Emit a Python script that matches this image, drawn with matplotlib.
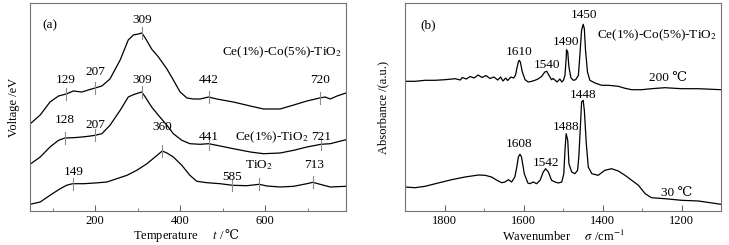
# TPR (a) and in-situ IR (b) of Ce-Co-TiO2
import numpy as np
import matplotlib.pyplot as plt

plt.rcParams['font.family'] = ['Liberation Serif', 'DejaVu Serif']
plt.rcParams['mathtext.fontset'] = 'stix'

#-------------------------------------------------------------------
# panel (a) : temperature / voltage (arbitrary offset units)
tCeCo = [47, 71, 94, 114, 132, 149, 169, 184, 200, 216, 235, 259, 278, 290,
         302, 310, 318, 333, 349, 369, 384, 400, 416, 431, 447, 467, 486, 525,
         565, 596, 635, 667, 698, 728, 741, 753, 769, 790]
vCeCo = [87, 96, 109, 115, 117, 120, 119, 121, 123, 125, 132, 151, 171, 176,
         177, 178, 173, 162, 154, 142, 131, 119, 113, 112, 112, 114, 112, 109,
         105, 102, 102, 106, 110, 113, 114, 112, 115, 118]

tCe = [47, 71, 94, 114, 129, 149, 169, 184, 200, 216, 235, 259, 278, 290,
       302, 310, 318, 333, 349, 369, 384, 404, 423, 447, 467, 486, 525, 565,
       596, 635, 667, 698, 731, 753, 790]
vCe = [46.7, 54, 64, 70.7, 73, 73.3, 74, 74.7, 75.7, 77.3, 85.7, 100.7, 114,
       116.3, 118, 119, 114, 104, 95.7, 85.7, 77.3, 70.7, 67.3, 66.7, 67.3,
       65.7, 62.3, 59, 57.3, 58, 60.7, 64, 66.7, 67.3, 71.3]

tTi = [47, 71, 94, 118, 133, 147, 173, 200, 228, 251, 275, 298, 322, 341,
       358, 369, 384, 404, 423, 439, 463, 494, 523, 557, 586, 604, 635, 667,
       698, 712, 729, 753, 790]
vTi = [6.7, 9, 15.7, 22.3, 25.7, 27.3, 27.3, 28, 29, 32.3, 35.7, 40.7, 47.3,
       54, 60, 58, 54, 45.7, 35.7, 29.7, 28.3, 27.3, 25.7, 25.3, 26.7, 25,
       24, 24.7, 27.3, 28.7, 26.7, 24, 24.7]

# peak marks : (curve, mark position, label, label x, label y)
peaksA = [
    ('CeCo', 132, '129', 132, 130.7),
    ('CeCo', 200, '207', 200, 139),
    ('CeCo', 310, '309', 310, 190.7),
    ('CeCo', 467, '442', 467, 130.7),
    ('CeCo', 728, '720', 728, 130.7),
    ('Ce', 129, '128', 129, 90.7),
    ('Ce', 200, '207', 200, 85.7),
    ('Ce', 310, '309', 310, 130.7),
    ('Ce', 467, '441', 467, 74),
    ('Ce', 731, '721', 731, 74),
    ('Ti', 147, '149', 149, 39),
    ('Ti', 358, '360', 357, 84),
    ('Ti', 523, '585', 523, 34),
    ('Ti', 586, None, 0, 0),
    ('Ti', 713, '713', 714, 45.7),
]

#-------------------------------------------------------------------
# panel (b) : wavenumber / absorbance
w200 = [1900, 1875, 1849, 1824, 1799, 1773, 1760, 1755, 1745, 1735, 1725,
        1715, 1705, 1695, 1685, 1675, 1665, 1658, 1652, 1645, 1640, 1632,
        1625, 1620, 1617, 1613, 1611, 1608, 1603, 1596, 1588, 1579, 1571,
        1562, 1554, 1546, 1541, 1537, 1529, 1525, 1515, 1508, 1503, 1499,
        1495, 1492, 1491, 1488, 1485, 1480, 1474, 1468, 1461, 1457, 1453,
        1449, 1446, 1443, 1438, 1432, 1419, 1402, 1385, 1360, 1343, 1326,
        1301, 1276, 1242, 1200, 1157, 1100]
a200 = [129.7, 129.7, 130.7, 130.7, 131.3, 132.3, 131, 133.5, 132, 134.5,
        133, 136, 133.5, 135.5, 132.5, 134, 131, 134, 130, 133, 130.5, 134,
        133, 136, 142.3, 149, 150.7, 149, 139, 131.3, 129, 129.7, 130.7,
        132.3, 134.7, 139, 139.7, 136.7, 131.3, 132.5, 129, 132, 129, 130.7,
        135.7, 152.3, 161.3, 159, 144, 133.3, 130.7, 131.3, 135.7, 157.3,
        180.7, 186.7, 182.3, 160.7, 139, 130.7, 128, 125.7, 125.7, 124.7,
        122.7, 121.3, 121.3, 122.3, 123.3, 122.3, 122.3, 121.3]

w30 = [1900, 1875, 1849, 1816, 1782, 1748, 1714, 1697, 1681, 1664, 1655,
       1647, 1638, 1630, 1622, 1617, 1613, 1609, 1605, 1598, 1589, 1584,
       1575, 1567, 1558, 1550, 1544, 1537, 1529, 1520, 1512, 1503, 1498,
       1495, 1492, 1488, 1485, 1478, 1470, 1463, 1460, 1456, 1453, 1449,
       1446, 1441, 1436, 1427, 1411, 1394, 1377, 1360, 1343, 1326, 1309,
       1292, 1276, 1242, 1200, 1157, 1100]
a30 = [24, 23.3, 24.7, 28, 31.3, 34, 36, 35.7, 34, 30, 28.3, 29, 31.3, 29,
       34, 44, 54, 56.7, 54, 37.3, 28, 27.3, 29, 27.3, 30.7, 39, 42.3, 39,
       30.7, 29, 28, 29, 37.3, 60.7, 77.3, 70.7, 47.3, 39, 37.3, 40.7, 54,
       84, 109, 110.7, 100.7, 67.3, 44, 37.3, 35.7, 40.7, 42.3, 40, 35.7,
       30.7, 25.7, 17.3, 13.3, 12.3, 10.7, 10, 6.7]

# peak labels : (label, x, y)
peaksB = [('1610', 1611, 159), ('1540', 1541, 145.7), ('1490', 1493, 169),
          ('1450', 1448, 195.7), ('1608', 1610, 67.3), ('1542', 1543, 48),
          ('1488', 1491, 84), ('1448', 1448, 115.7)]

#-------------------------------------------------------------------
fig = plt.figure(figsize=(7.29, 2.45), dpi=100)
axA = fig.add_axes([30/729, 1-211/245, 316/729, 208/245])
axB = fig.add_axes([405/729, 1-211/245, 316/729, 208/245])

fs = 9.5    # annotations
fsl = 9     # axis labels / ticks
curves = {'CeCo': (tCeCo, vCeCo), 'Ce': (tCe, vCe), 'Ti': (tTi, vTi)}
for key in curves:
    axA.plot(curves[key][0], curves[key][1], color='k', lw=0.9)

for key, xm, lab, xl, yl in peaksA:
    yc = np.interp(xm, curves[key][0], curves[key][1])
    axA.plot([xm, xm], [yc-6, yc+6], color='0.55', lw=0.8)
    if lab:
        axA.text(xl, yl, lab, ha='center', va='center', fontsize=fs)

axA.text(639, 159, 'Ce(1%)-Co(5%)-TiO$_2$', ha='center', va='center', fontsize=fs)
axA.text(615, 74, 'Ce(1%)-TiO$_2$', ha='center', va='center', fontsize=fs)
axA.text(586, 45.7, 'TiO$_2$', ha='center', va='center', fontsize=fs)
axA.text(0.04, 0.88, '(a)', transform=axA.transAxes, fontsize=fs)

axA.set_xlim(47, 790)
axA.set_ylim(0, 208)
axA.set_xticks([200, 400, 600])
axA.set_xticks([100, 300, 500, 700], minor=True)
axA.set_yticks([])
xlab = axA.set_xlabel('Temperature     $t$ /', fontsize=fsl, labelpad=1)
xlab.set_x(0.47)
axA.annotate('\u2103', xy=(1, 0.5), xycoords=xlab, ha='left', va='center',
             fontsize=fsl)
axA.set_ylabel('Voltage /eV', fontsize=fsl, labelpad=7)

axB.plot(w200, a200, color='k', lw=0.9)
axB.plot(w30, a30, color='k', lw=0.9)
for lab, xl, yl in peaksB:
    axB.text(xl, yl, lab, ha='center', va='center', fontsize=fs)
axB.text(1261, 176, 'Ce(1%)-Co(5%)-TiO$_2$', ha='center', va='center', fontsize=fs)
axB.text(1234, 133.3, '200 \u2103', ha='center', va='center', fontsize=fs)
axB.text(1212, 18.3, '30 \u2103', ha='center', va='center', fontsize=fs)
axB.text(0.05, 0.88, '(b)', transform=axB.transAxes, fontsize=fs)

axB.set_xlim(1900, 1100)
axB.set_ylim(0, 208)
axB.set_xticks([1800, 1600, 1400, 1200])
axB.set_xticks([1700, 1500, 1300], minor=True)
axB.set_yticks([])
axB.set_xlabel('Wavenumber     $\\sigma$ /cm$^{-1}$', fontsize=fsl, labelpad=1)
axB.set_ylabel('Absorbance /(a.u.)', fontsize=fsl, labelpad=11)

for ax in (axA, axB):
    ax.tick_params(axis='x', which='both', direction='in', labelsize=fsl,
                   color='0.4', pad=3)
    ax.tick_params(axis='x', which='major', length=4)
    ax.tick_params(axis='x', which='minor', length=2.5)
    for s in ax.spines.values():
        s.set_color('0.45')
        s.set_linewidth(0.8)

fig.savefig('out.png', dpi=100)
